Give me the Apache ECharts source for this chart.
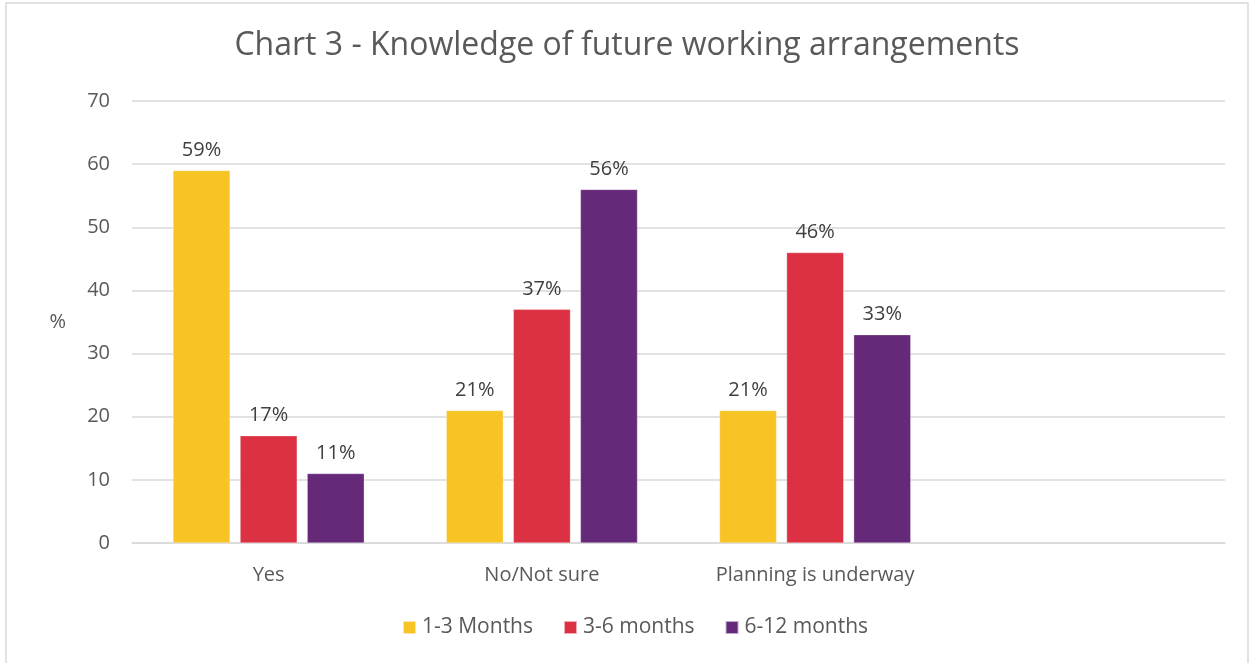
<!DOCTYPE html>
<html>
<head>
<meta charset="utf-8">
<script src="https://cdn.jsdelivr.net/npm/echarts@6/dist/echarts.min.js"></script>
<style>
html,body{margin:0;padding:0;background:#fff;}
#chart{width:1254px;height:663px;}
</style>
</head>
<body>
<div id="chart"></div>
<script>
const categories = ['Yes', 'No/Not sure', 'Planning is underway', ''];
const seriesNames = ['1-3 Months', '3-6 months', '6-12 months'];
const months1to3 = [59, 21, 21, null];
const months3to6 = [17, 37, 46, null];
const months6to12 = [11, 56, 33, null];
const yTicks = { min: 0, max: 70, interval: 10 };

const colors = ['#F7C325', '#DC3043', '#66297A'];
const FONT = 'Open Sans';
const chart = echarts.init(document.getElementById('chart'));

function mk(name, data, color) {
  return {
    name: name,
    type: 'bar',
    data: data,
    barGap: '17.5%',
    barCategoryGap: '30%',
    itemStyle: { color: color, borderColor: 'rgba(255,255,255,0.6)', borderWidth: 0.5 },
    label: {
      show: true,
      position: 'top',
      distance: 10,
      formatter: p => p.value == null ? '' : p.value + '%',
      color: '#404040',
      fontFamily: FONT,
      fontSize: 20
    }
  };
}

chart.setOption({
  animation: false,
  backgroundColor: '#fff',
  graphic: [{
    type: 'rect',
    shape: { x: 6, y: 3, width: 1242, height: 670 },
    style: { fill: 'none', stroke: '#d9d9d9', lineWidth: 1.5 },
    silent: true
  }],
  title: {
    text: 'Chart 3 - Knowledge of future working arrangements',
    left: 'center',
    top: 25,
    textStyle: { fontFamily: FONT, fontSize: 32, fontWeight: 'normal', color: '#595959' }
  },
  legend: {
    bottom: 20,
    left: 397,
    itemWidth: 13,
    itemHeight: 13,
    itemGap: 30,
    icon: 'rect',
    textStyle: { fontFamily: FONT, fontSize: 21, color: '#595959', padding: [0, 0, 0, 1] },
    data: seriesNames
  },
  grid: { left: 132, right: 29, top: 101, bottom: 120, containLabel: false },
  xAxis: {
    type: 'category',
    data: categories,
    axisTick: { show: false },
    axisLine: { lineStyle: { color: '#d9d9d9', width: 1.5 } },
    axisLabel: { fontFamily: FONT, fontSize: 20, color: '#595959', margin: 22 }
  },
  yAxis: {
    type: 'value',
    min: yTicks.min,
    max: yTicks.max,
    interval: yTicks.interval,
    name: '%',
    nameLocation: 'middle',
    nameRotate: 0,
    nameGap: 66,
    nameTextStyle: { fontFamily: FONT, fontSize: 20, color: '#595959' },
    axisLine: { show: false },
    axisTick: { show: false },
    axisLabel: { fontFamily: FONT, fontSize: 20, color: '#595959', margin: 22 },
    splitLine: { lineStyle: { color: '#d9d9d9', width: 1.5 } }
  },
  series: [
    mk(seriesNames[0], months1to3, colors[0]),
    mk(seriesNames[1], months3to6, colors[1]),
    mk(seriesNames[2], months6to12, colors[2])
  ]
});
</script>
</body>
</html>
